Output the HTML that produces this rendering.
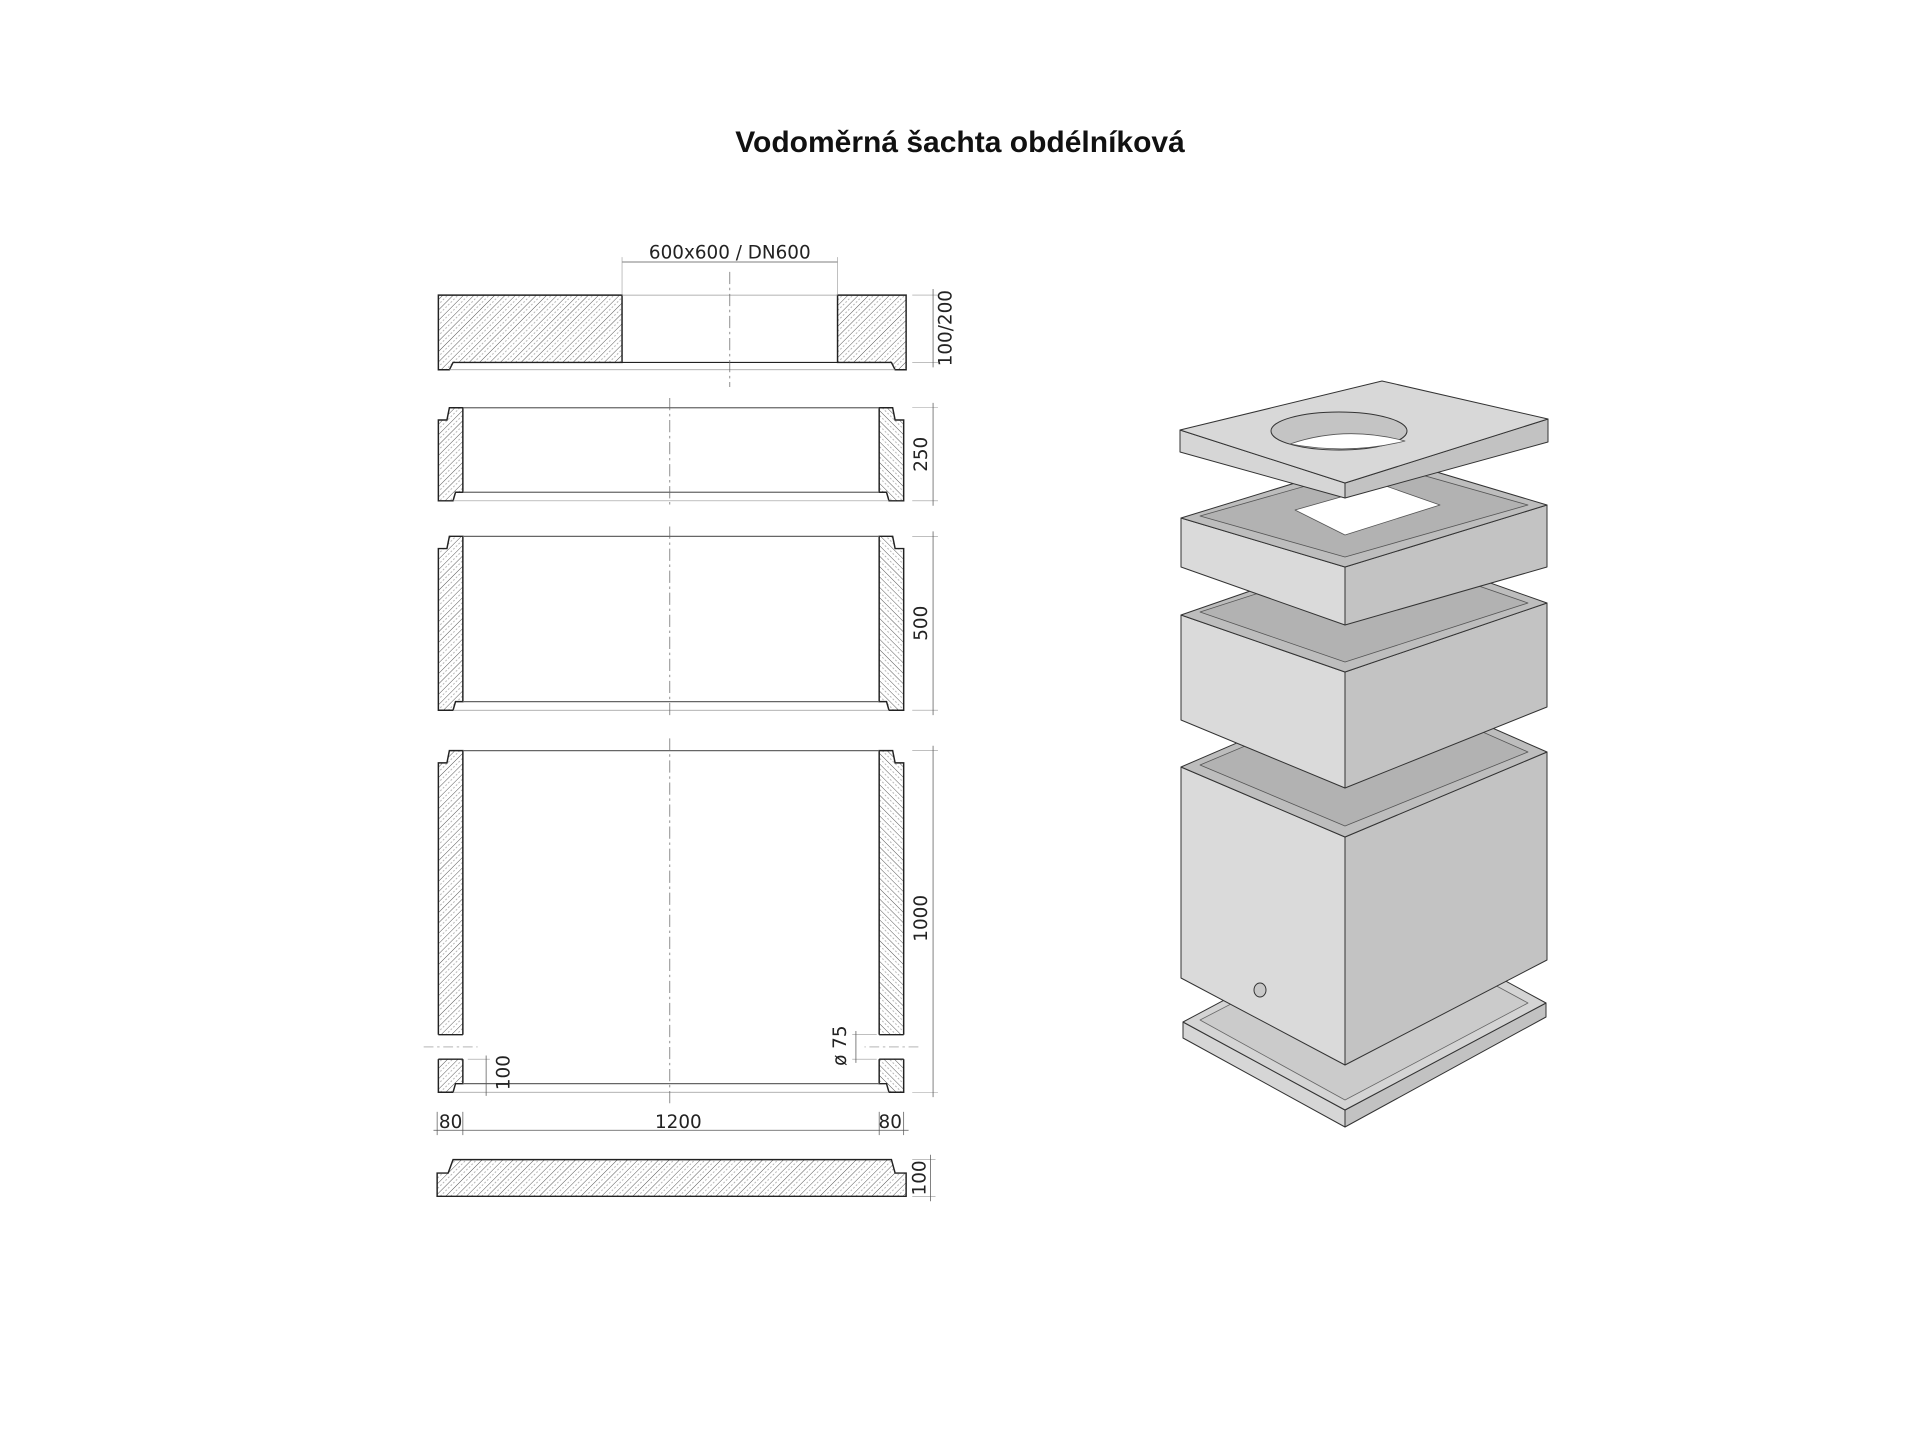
<!DOCTYPE html>
<html><head><meta charset="utf-8"><style>
html,body{margin:0;padding:0;background:#fff;}
svg{display:block;}
</style></head><body>
<svg width="1920" height="1440" viewBox="0 0 1920 1440" xmlns="http://www.w3.org/2000/svg">
<defs>
<pattern id="h" patternUnits="userSpaceOnUse" width="6" height="6" patternTransform="rotate(45)">
<rect width="6" height="6" fill="#fff"/>
<line x1="0" y1="0" x2="0" y2="6" stroke="#555" stroke-width="0.8"/>
<line x1="3" y1="0" x2="3" y2="6" stroke="#999" stroke-width="0.6" stroke-dasharray="1.5,1.5"/>
</pattern>
<g id="wallA"><polygon points="367,333 378,333 378,402 372,402 370,409 358,409 358,343 365,343" fill="url(#h)" stroke="#222" stroke-width="1.2"/></g>
<g id="wallB"><polygon points="367,438 378,438 378,573 372,573 370,580 358,580 358,448 365,448" fill="url(#h)" stroke="#222" stroke-width="1.2"/></g>
<g id="wallC"><polygon points="367,613 378,613 378,885 372,885 370,892 358,892 358,623 365,623" fill="url(#h)" stroke="#222" stroke-width="1.2"/>
<rect x="356" y="845" width="24" height="20" fill="#fff"/>
<line x1="358" y1="845" x2="378" y2="845" stroke="#222" stroke-width="1.2"/>
<line x1="358" y1="865" x2="378" y2="865" stroke="#222" stroke-width="1.2"/>
<line x1="346" y1="855" x2="390" y2="855" stroke="#888" stroke-width="0.6" stroke-dasharray="8,3,2,3"/></g>
</defs>
<text x="960" y="152" text-anchor="middle" font-family="Liberation Sans, sans-serif" font-weight="bold" font-size="30" fill="#111">Vodoměrná šachta obdélníková</text>

<g transform="scale(1.22449)" font-family="DejaVu Sans, sans-serif" fill="none">
<polygon points="358,241 508,241 508,296 370,296 367,302 358,302" fill="url(#h)" stroke="#222" stroke-width="1.2"/>
<polygon points="684,241 740,241 740,302 731,302 728,296 684,296" fill="url(#h)" stroke="#222" stroke-width="1.2"/>
<line x1="508" y1="241" x2="684" y2="241" stroke="#999" stroke-width="0.6"/>
<line x1="508" y1="296" x2="684" y2="296" stroke="#222" stroke-width="1"/>
<line x1="367" y1="302" x2="731" y2="302" stroke="#999" stroke-width="0.6"/>
<line x1="596" y1="222" x2="596" y2="316" stroke="#666" stroke-width="0.6" stroke-dasharray="10,3,2,3"/>
<line x1="508" y1="214" x2="684" y2="214" stroke="#555" stroke-width="0.6"/>
<line x1="508" y1="210" x2="508" y2="241" stroke="#999" stroke-width="0.5"/>
<line x1="684" y1="210" x2="684" y2="241" stroke="#999" stroke-width="0.5"/>
<text x="596" y="211" text-anchor="middle" font-size="15" fill="#222">600x600 / DN600</text>
<line x1="745" y1="241" x2="766" y2="241" stroke="#999" stroke-width="0.5"/>
<line x1="745" y1="296" x2="766" y2="296" stroke="#999" stroke-width="0.5"/>
<line x1="762" y1="236" x2="762" y2="300" stroke="#555" stroke-width="0.6"/>
<text transform="translate(777,268) rotate(-90)" text-anchor="middle" font-size="15" fill="#222">100/200</text>

<use href="#wallA"/><use href="#wallA" transform="translate(1096,0) scale(-1,1)"/>
<line x1="378" y1="333" x2="718" y2="333" stroke="#666" stroke-width="1"/>
<line x1="378" y1="402" x2="718" y2="402" stroke="#666" stroke-width="1"/>
<line x1="370" y1="409" x2="726" y2="409" stroke="#999" stroke-width="0.6"/>
<line x1="547" y1="325" x2="547" y2="412" stroke="#666" stroke-width="0.6" stroke-dasharray="10,3,2,3"/>
<line x1="745" y1="333" x2="766" y2="333" stroke="#999" stroke-width="0.5"/>
<line x1="745" y1="409" x2="766" y2="409" stroke="#999" stroke-width="0.5"/>
<line x1="762" y1="329" x2="762" y2="413" stroke="#555" stroke-width="0.6"/>
<text transform="translate(757,371) rotate(-90)" text-anchor="middle" font-size="15" fill="#222">250</text>

<use href="#wallB"/><use href="#wallB" transform="translate(1096,0) scale(-1,1)"/>
<line x1="378" y1="438" x2="718" y2="438" stroke="#666" stroke-width="1"/>
<line x1="378" y1="573" x2="718" y2="573" stroke="#666" stroke-width="1"/>
<line x1="370" y1="580" x2="726" y2="580" stroke="#999" stroke-width="0.6"/>
<line x1="547" y1="430" x2="547" y2="584" stroke="#666" stroke-width="0.6" stroke-dasharray="10,3,2,3"/>
<line x1="745" y1="438" x2="766" y2="438" stroke="#999" stroke-width="0.5"/>
<line x1="745" y1="580" x2="766" y2="580" stroke="#999" stroke-width="0.5"/>
<line x1="762" y1="434" x2="762" y2="584" stroke="#555" stroke-width="0.6"/>
<text transform="translate(757,509) rotate(-90)" text-anchor="middle" font-size="15" fill="#222">500</text>

<use href="#wallC"/><use href="#wallC" transform="translate(1096,0) scale(-1,1)"/>
<line x1="378" y1="613" x2="718" y2="613" stroke="#666" stroke-width="1"/>
<line x1="378" y1="885" x2="718" y2="885" stroke="#666" stroke-width="1"/>
<line x1="370" y1="892" x2="726" y2="892" stroke="#999" stroke-width="0.6"/>
<line x1="547" y1="603" x2="547" y2="903" stroke="#666" stroke-width="0.6" stroke-dasharray="10,3,2,3"/>
<line x1="745" y1="613" x2="766" y2="613" stroke="#999" stroke-width="0.5"/>
<line x1="745" y1="892" x2="766" y2="892" stroke="#999" stroke-width="0.5"/>
<line x1="762" y1="609" x2="762" y2="896" stroke="#555" stroke-width="0.6"/>
<text transform="translate(757,750) rotate(-90)" text-anchor="middle" font-size="15" fill="#222">1000</text>
<line x1="382" y1="865" x2="400" y2="865" stroke="#999" stroke-width="0.5"/>
<line x1="397" y1="862" x2="397" y2="895" stroke="#555" stroke-width="0.6"/>
<text transform="translate(416,876) rotate(-90)" text-anchor="middle" font-size="15" fill="#222">100</text>
<line x1="696" y1="845" x2="716" y2="845" stroke="#999" stroke-width="0.5"/>
<line x1="696" y1="865" x2="716" y2="865" stroke="#999" stroke-width="0.5"/>
<line x1="699" y1="842" x2="699" y2="868" stroke="#555" stroke-width="0.6"/>
<text transform="translate(691,854) rotate(-90)" text-anchor="middle" font-size="15" fill="#222">ø 75</text>

<line x1="354" y1="923" x2="742" y2="923" stroke="#555" stroke-width="0.6"/>
<line x1="357" y1="908" x2="357" y2="927" stroke="#555" stroke-width="0.6"/>
<line x1="378" y1="908" x2="378" y2="927" stroke="#555" stroke-width="0.6"/>
<line x1="718" y1="908" x2="718" y2="927" stroke="#555" stroke-width="0.6"/>
<line x1="738" y1="908" x2="738" y2="927" stroke="#555" stroke-width="0.6"/>
<text x="368" y="921" text-anchor="middle" font-size="15" fill="#222">80</text>
<text x="554" y="921" text-anchor="middle" font-size="15" fill="#222">1200</text>
<text x="727" y="921" text-anchor="middle" font-size="15" fill="#222">80</text>

<polygon points="357,958 366,958 370,947 728,947 731,958 740,958 740,977 357,977" fill="url(#h)" stroke="#222" stroke-width="1.2"/>
<line x1="745" y1="947" x2="764" y2="947" stroke="#999" stroke-width="0.5"/>
<line x1="745" y1="977" x2="764" y2="977" stroke="#999" stroke-width="0.5"/>
<line x1="760" y1="943" x2="760" y2="981" stroke="#555" stroke-width="0.6"/>
<text transform="translate(756,962) rotate(-90)" text-anchor="middle" font-size="15" fill="#222">100</text>
</g>

<g stroke="#333" stroke-width="1" stroke-linejoin="round">
<polygon points="1183,1022 1345,1110 1345,1127 1183,1038" fill="#d6d6d6"/>
<polygon points="1345,1110 1546,1003 1546,1017 1345,1127" fill="#c2c2c2"/>
<polygon points="1183,1022 1384,915 1546,1003 1345,1110" fill="#d4d4d4"/>
<polygon points="1200,1020 1384,925 1528,1003 1345,1100" fill="#cbcbcb" stroke="#666" stroke-width="0.8"/>
<polygon points="1181,767 1345,837 1345,1065 1181,978" fill="#dadada"/>
<polygon points="1345,837 1547,752 1547,960 1345,1065" fill="#c3c3c3"/>
<polygon points="1181,767 1383,680 1547,752 1345,837" fill="#bdbdbd"/>
<polygon points="1200,765 1383,688 1528,752 1345,826" fill="#b2b2b2" stroke="#555" stroke-width="0.8"/>
<ellipse cx="1260" cy="990" rx="6" ry="7" fill="#c8c8c8"/>
<polygon points="1181,615 1345,672 1345,788 1181,720" fill="#dadada"/>
<polygon points="1345,672 1547,603 1547,707 1345,788" fill="#c3c3c3"/>
<polygon points="1181,615 1383,545 1547,603 1345,672" fill="#bdbdbd"/>
<polygon points="1200,612 1383,553 1528,603 1345,662" fill="#b2b2b2" stroke="#555" stroke-width="0.8"/>
<polygon points="1181,518 1345,567 1345,625 1181,567" fill="#dadada"/>
<polygon points="1345,567 1547,505 1547,567 1345,625" fill="#c3c3c3"/>
<polygon points="1181,518 1383,456 1547,505 1345,567" fill="#bdbdbd"/>
<polygon points="1200,516 1383,464 1528,505 1345,557" fill="#b2b2b2" stroke="#555" stroke-width="0.8"/>
<polygon points="1295,510 1383,485 1440,505 1345,535" fill="#fff" stroke="#555" stroke-width="0.8"/>
<polygon points="1180,430 1345,483 1345,498 1180,452" fill="#d6d6d6"/>
<polygon points="1345,483 1548,419 1548,442 1345,498" fill="#c2c2c2"/>
<polygon points="1180,430 1382,381 1548,419 1345,483" fill="#d8d8d8"/>
<ellipse cx="1339" cy="431" rx="68" ry="19" fill="#c4c4c4"/>
<path d="M1290,444 Q1345,425 1405,441 Q1350,455 1290,444 Z" fill="#fff" stroke="#555" stroke-width="0.8"/>
</g>
</svg>
</body></html>
